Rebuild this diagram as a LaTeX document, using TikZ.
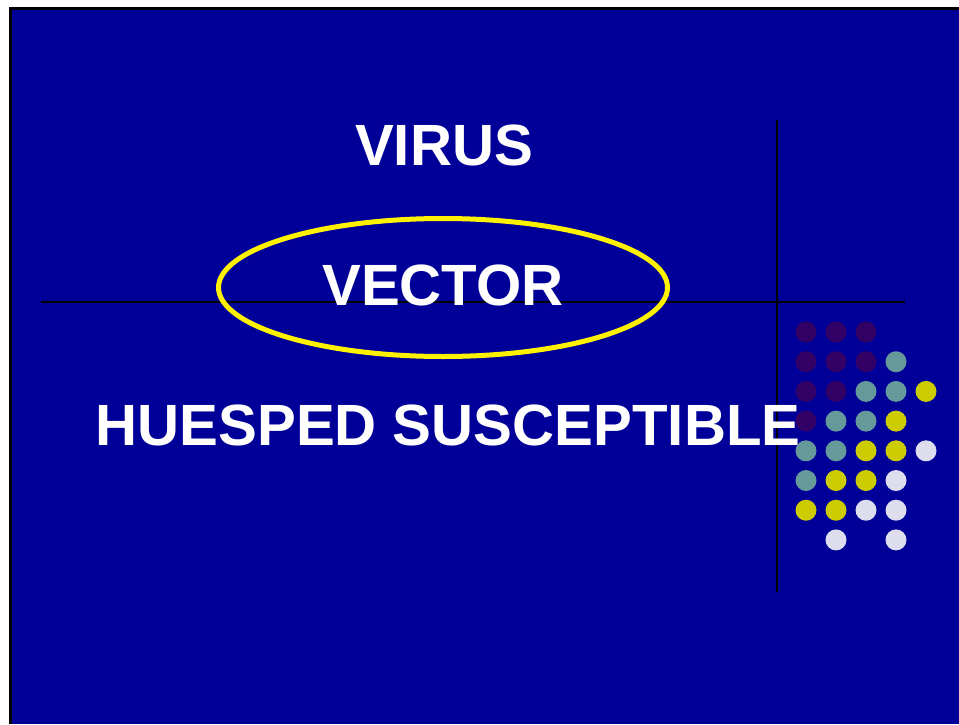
\documentclass[tikz,border=0pt]{standalone}
\usepackage{fontspec}
\setmainfont{Liberation Sans}
\usetikzlibrary{shapes.geometric}

\definecolor{slide}{HTML}{000099}
\definecolor{pu}{HTML}{330066}
\definecolor{te}{HTML}{669999}
\definecolor{ye}{HTML}{CCCC00}
\definecolor{la}{HTML}{DDDDEE}

\begin{document}
\begin{tikzpicture}[
		x=1pt, y=-1pt,
		word/.style={text=white, font=\fontsize{58.2}{70}\selectfont\bfseries, anchor=base, inner sep=0pt},
		dot/.style={circle, fill=#1, minimum size=21pt, inner sep=0pt}]
		
		\useasboundingbox (0,0) rectangle (959,724);
		\fill[white] (0,0) rectangle (959,724);
		\fill[slide] (10.5,8.5) rectangle (959,724);
		\draw[line width=3pt] (10.5,724) -- (10.5,8.5) -- (959,8.5);
		
		% cross lines
		\coordinate (l) at (41,302);
		\coordinate (r) at (905,302);
		\coordinate (t) at (777,120);
		\coordinate (b) at (777,592);
		\draw[line width=2pt] (l) -- (r);
		\draw[line width=2pt] (t) -- (b);
		
		\node (ring) at (443,287.5) [ellipse, draw=yellow, line width=5pt,
			minimum width=449pt, minimum height=138pt, inner sep=0pt] {};
		
		% dots
		\foreach \c/\i/\j in {pu/0/0, pu/1/0, pu/2/0,
				pu/0/1, pu/1/1, pu/2/1, te/3/1,
				pu/0/2, pu/1/2, te/2/2, te/3/2, ye/4/2,
				pu/0/3, te/1/3, te/2/3, ye/3/3,
				te/0/4, te/1/4, ye/2/4, ye/3/4, la/4/4,
				te/0/5, ye/1/5, ye/2/5, la/3/5,
				ye/0/6, ye/1/6, la/2/6, la/3/6,
				la/1/7, la/3/7}
			\node[dot=\c] (d-\i-\j) at (806+30*\i, 332+29.7*\j) {};
		
		\node[word] (virus) at (444,165) {VIRUS};
		\node[word] (vector) at (443,305) {VECTOR};
		\node[word] (host) at (448,445) {HUESPED SUSCEPTIBLE};
		
\end{tikzpicture}
\end{document}
